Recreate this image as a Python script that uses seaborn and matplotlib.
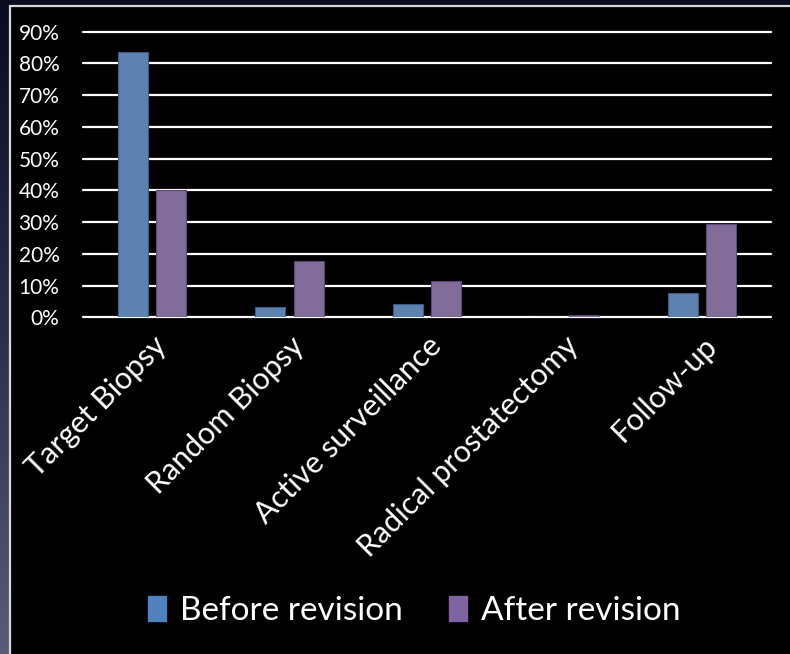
import numpy as np
import pandas as pd
import matplotlib
matplotlib.use("Agg")
import matplotlib.pyplot as plt
from matplotlib.patches import Rectangle, Patch
from matplotlib.colors import LinearSegmentedColormap
import seaborn as sns

categories = ["Target Biopsy", "Random Biopsy", "Active surveillance",
              "Radical prostatectomy", "Follow-up"]
before_revision = [0.837, 0.032, 0.041, 0.0, 0.077]
after_revision = [0.401, 0.178, 0.115, 0.007, 0.293]
series_names = ["Before revision", "After revision"]
y_ticks = [0.0, 0.1, 0.2, 0.3, 0.4, 0.5, 0.6, 0.7, 0.8, 0.9]
y_tick_labels = ["0%", "10%", "20%", "30%", "40%", "50%", "60%", "70%", "80%", "90%"]

colors = {"Before revision": "#4F81BD", "After revision": "#8064A2"}

df = pd.DataFrame({
    "category": categories * 2,
    "series": [series_names[0]] * len(categories) + [series_names[1]] * len(categories),
    "value": before_revision + after_revision,
})

sns.set_theme(style="dark")
plt.rcParams["font.family"] = ["Lato", "DejaVu Sans"]

fig = plt.figure(figsize=(7.9, 6.54), dpi=100, facecolor="black")

# slide backdrop: dark blue gradient behind a black panel
bg = fig.add_axes([0, 0, 1, 1], zorder=-10)
grad = np.linspace(0, 1, 256).reshape(-1, 1)
cmap = LinearSegmentedColormap.from_list("slide", ["#0b0b1e", "#2c2d4c", "#5b5b77"])
bg.imshow(grad, aspect="auto", cmap=cmap, extent=[0, 1, 0, 1], origin="upper")
bg.add_patch(Rectangle((9.5 / 790, -0.05), 1.1, 1 - 5.5 / 654 + 0.05,
                       facecolor="black", edgecolor="#d8d8d8", linewidth=1.6))
bg.set_xlim(0, 1)
bg.set_ylim(0, 1)
bg.axis("off")

ax = fig.add_axes([83 / 790, 1 - 317.3 / 654, (771 - 83) / 790, 285.6 / 654])
ax.set_facecolor("black")

sns.barplot(data=df, x="category", y="value", hue="series", order=categories,
            hue_order=series_names, palette=colors, width=0.56, gap=0.22,
            linewidth=0.8, legend=False, ax=ax, zorder=3)
for bar, name in zip(ax.patches, [s for s in series_names for _ in categories]):
    bar.set_edgecolor("#3b5a85" if name == series_names[0] else "#5c4878")

ax.set_ylim(0, 0.9)
ax.set_xlim(-0.5, len(categories) - 0.5)
ax.set_yticks(y_ticks)
ax.set_yticklabels(y_tick_labels, color="white", fontsize=15)
ax.tick_params(axis="y", length=0, pad=17)
ax.tick_params(axis="x", length=0, pad=10)
ax.set_xticks(range(len(categories)))
ax.set_xticklabels(categories, rotation=45, ha="right", rotation_mode="anchor",
                   color="white", fontsize=22)
for y in y_ticks:
    ax.axhline(y, color="white", linewidth=1.6, zorder=1, clip_on=False)
for s in ax.spines.values():
    s.set_visible(False)
ax.grid(False)
ax.set_xlabel("")
ax.set_ylabel("")

handles = [Patch(facecolor=colors[n], edgecolor=colors[n]) for n in series_names]
leg = fig.legend(handles, series_names, loc="center", bbox_to_anchor=(0.524, 1 - 611 / 654),
                 ncol=2, frameon=False, fontsize=24, handlelength=0.55, handleheight=0.8,
                 handletextpad=0.4, columnspacing=1.4)
for t in leg.get_texts():
    t.set_color("white")

fig.savefig("out.png", dpi=100, facecolor=fig.get_facecolor())
